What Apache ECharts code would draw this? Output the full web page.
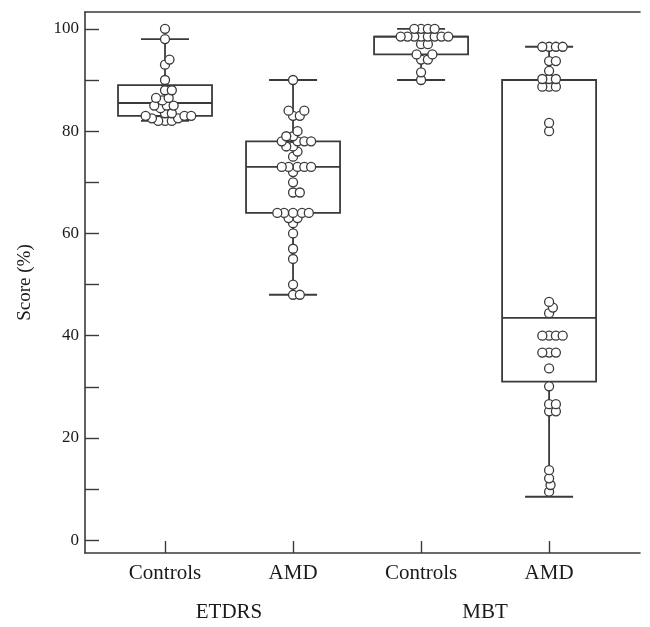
<!DOCTYPE html>
<html>
<head>
<meta charset="utf-8">
<script src="https://cdn.jsdelivr.net/npm/echarts@6/dist/echarts.min.js"></script>
<style>
  html, body { margin: 0; background: #fff; }
  #chart { width: 650px; height: 627px; }
</style>
</head>
<body>
<div id="chart"></div>
<script>
// test groups and subject groups
const groups = ['ETDRS', 'MBT'];
const categories = ['Controls', 'AMD', 'Controls', 'AMD'];

// individual scores (%)
const etdrsControls = [100, 98, 94, 93, 90, 88, 88, 86.5, 86.5, 86, 85, 85, 85, 84.5, 83.5, 83.5, 83, 83, 83, 82.5, 82.5, 82, 82, 82];
const etdrsAmd = [90, 84, 84, 83, 83, 80, 79, 79, 78, 78, 78, 78, 77, 77, 76, 75, 73, 73, 73, 73, 73, 72, 70, 68, 68,
  64, 64, 64, 64, 64, 63, 63, 62, 60, 57, 55, 50, 48, 48];
const mbtControls = [100, 100, 100, 100, 98.5, 98.5, 98.5, 98.5, 98.5, 98.5, 98.5, 98.5, 97, 97, 95, 95, 94, 94, 91.5, 90];
const mbtAmd = [96.5, 96.5, 96.5, 96.5, 93.7, 93.7, 91.8, 90.2, 90.2, 90.2, 88.7, 88.7, 88.7, 81.6, 80,
  46.6, 45.5, 44.4, 40, 40, 40, 40, 36.7, 36.7, 36.7, 33.6, 30.1, 26.6, 26.6, 25.2, 25.2, 13.7, 12.1, 10.8, 9.5];
const scores = [etdrsControls, etdrsAmd, mbtControls, mbtAmd];

// min, Q1, median, Q3, max
const boxStats = [
  [82, 83, 85.5, 89, 98],
  [48, 64, 73, 78, 90],
  [90, 95, 98.5, 98.5, 100],
  [8.5, 31, 43.5, 90, 96.5]
];

const yTicks = [0, 10, 20, 30, 40, 50, 60, 70, 80, 90, 100];
const yLabels = [0, 20, 40, 60, 80, 100];

const grid = { left: 85, top: 12, right: 10, bottom: 74 };
const xMin = 0.375, xMax = 4.71, yMin = -2.5, yMax = 103.3;
const plotW = 650 - grid.left - grid.right;
const plotH = 627 - grid.top - grid.bottom;
const pxX = plotW / (xMax - xMin);
const pxY = plotH / (yMax - yMin);

const dotSize = 9;
const dotGap = 6.8; // dots overlap slightly, like the original

const lineColor = '#3a3a3a';
const font = 'Liberation Serif';

// simple beeswarm: each dot goes as close to the centre line as it can
function swarm(values, center) {
  const placed = [];
  values.slice().sort((a, b) => a - b).forEach(v => {
    const y = v * pxY;
    const cands = [0];
    placed.forEach(p => {
      const dy = Math.abs(p.y - y);
      if (dy < dotGap) {
        const dx = Math.sqrt(dotGap * dotGap - dy * dy);
        cands.push(p.x + dx, p.x - dx);
      }
    });
    cands.sort((a, b) => Math.abs(a) - Math.abs(b) || b - a);
    let x = 0;
    for (const c of cands) {
      const ok = placed.every(p => (p.x - c) ** 2 + (p.y - y) ** 2 >= dotGap * dotGap - 0.01);
      if (ok) { x = c; break; }
    }
    placed.push({ x: x, y: y, v: v });
  });
  return placed.map(p => [center + p.x / pxX, p.v]);
}

const dots = [];
scores.forEach((vals, i) => { swarm(vals, i + 1).forEach(d => dots.push(d)); });

const boxData = boxStats.map((s, i) => [i + 1].concat(s));

const chart = echarts.init(document.getElementById('chart'));

chart.setOption({
  animation: false,
  backgroundColor: '#fff',
  grid: grid,
  xAxis: [
    {
      type: 'value', min: xMin, max: xMax, position: 'bottom',
      splitLine: { show: false },
      axisLine: { onZero: false, lineStyle: { color: lineColor, width: 1.6 } },
      axisTick: { inside: true, length: 12, customValues: [1, 2, 3, 4], lineStyle: { color: lineColor, width: 1.4 } },
      axisLabel: {
        customValues: [1, 2, 3, 4], margin: 10,
        formatter: v => categories[Math.round(v) - 1],
        color: '#1a1a1a', fontFamily: font, fontSize: 21
      }
    },
    {
      type: 'value', min: xMin, max: xMax, position: 'bottom', offset: 41,
      splitLine: { show: false },
      axisLine: { show: false, onZero: false },
      axisTick: { show: false },
      axisLabel: {
        customValues: [1.5, 3.5], margin: 8,
        formatter: v => groups[v < 2.5 ? 0 : 1],
        color: '#1a1a1a', fontFamily: font, fontSize: 21
      }
    },
    {
      type: 'value', min: xMin, max: xMax, position: 'top',
      splitLine: { show: false },
      axisLine: { onZero: false, lineStyle: { color: lineColor, width: 1.6 } },
      axisTick: { show: false },
      axisLabel: { show: false }
    }
  ],
  yAxis: {
    type: 'value', min: yMin, max: yMax,
    splitLine: { show: false },
    axisLine: { show: true, onZero: false, lineStyle: { color: lineColor, width: 1.6 } },
    axisTick: { show: true, inside: true, length: 14, customValues: yTicks, lineStyle: { color: lineColor, width: 1.4 } },
    axisLabel: { customValues: yLabels, margin: 6, color: '#1a1a1a', fontFamily: font, fontSize: 17 },
    name: 'Score (%)', nameLocation: 'middle', nameGap: 50,
    nameTextStyle: { color: '#1a1a1a', fontFamily: font, fontSize: 19 }
  },
  series: [
    {
      type: 'custom',
      data: boxData,
      z: 2,
      renderItem: function (params, api) {
        const x = api.value(0);
        const lo = api.coord([x, api.value(1)]);
        const q1 = api.coord([x, api.value(2)]);
        const md = api.coord([x, api.value(3)]);
        const q3 = api.coord([x, api.value(4)]);
        const hi = api.coord([x, api.value(5)]);
        const cx = lo[0], bw = 94, cw = 48;
        const st = { stroke: lineColor, lineWidth: 1.8, fill: null };
        const ln = (x1, y1, x2, y2) => ({ type: 'line', shape: { x1, y1, x2, y2 }, style: st });
        return {
          type: 'group',
          children: [
            ln(cx, lo[1], cx, q1[1]),
            ln(cx, q3[1], cx, hi[1]),
            ln(cx - cw / 2, lo[1], cx + cw / 2, lo[1]),
            ln(cx - cw / 2, hi[1], cx + cw / 2, hi[1]),
            { type: 'rect', shape: { x: cx - bw / 2, y: q3[1], width: bw, height: q1[1] - q3[1] }, style: st },
            ln(cx - bw / 2, md[1], cx + bw / 2, md[1])
          ]
        };
      }
    },
    {
      type: 'scatter',
      data: dots,
      z: 3,
      symbol: 'circle',
      symbolSize: dotSize,
      itemStyle: { color: '#fff', borderColor: lineColor, borderWidth: 1.3, opacity: 1 }
    }
  ]
});
</script>
</body>
</html>
